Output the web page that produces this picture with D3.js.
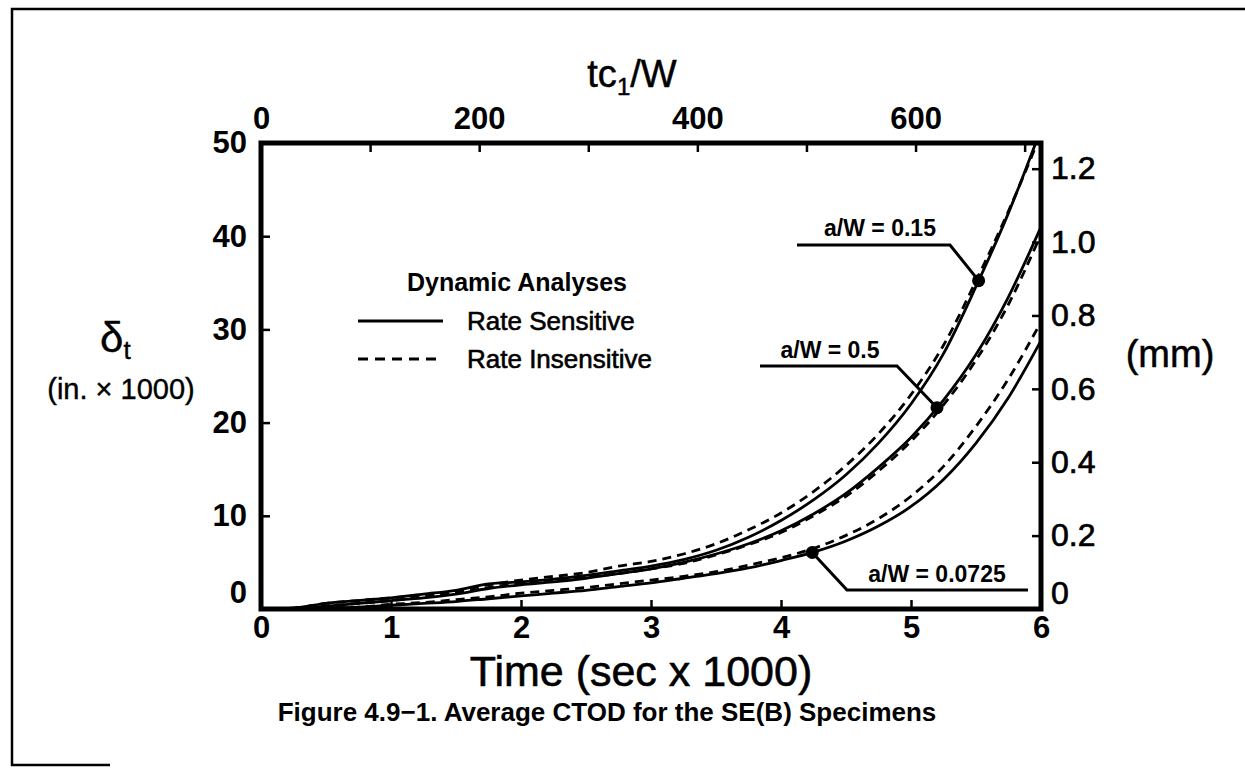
<!DOCTYPE html>
<html>
<head>
<meta charset="utf-8">
<script src="https://cdn.jsdelivr.net/npm/d3@7"></script>
<style>
  html, body { margin: 0; padding: 0; background: #fff; }
  svg { display: block; }
  text { font-family: "Liberation Sans", Arial, Helvetica, sans-serif; fill: #000; }
</style>
</head>
<body>
<svg id="chart" width="1245" height="773"></svg>
<script>
// Time (sec x 1000)
const timeK = [0, 0.25, 0.5, 0.75, 1.0, 1.25, 1.5, 1.75, 2.0, 2.25, 2.5, 2.75, 3.0,
               3.25, 3.5, 3.75, 4.0, 4.25, 4.5, 4.75, 5.0, 5.25, 5.5, 5.75, 6.0];

// Average CTOD, delta_t (in. x 1000), rate sensitive / rate insensitive
const rs015  = [0, 0.1, 0.6, 0.9, 1.2, 1.6, 2.0, 2.7, 2.9, 3.2, 3.6, 4.1, 4.6,
                5.3, 6.3, 7.7, 9.5, 11.7, 14.4, 17.8, 22.0, 27.4, 34.6, 42.5, 51.5];
const ri015  = [0, 0.1, 0.6, 0.9, 1.2, 1.5, 1.9, 2.6, 3.1, 3.5, 3.9, 4.6, 5.1,
                5.9, 7.0, 8.5, 10.3, 12.6, 15.4, 18.8, 23.0, 28.3, 35.2, 42.7, 51.0];
const rs050  = [0, 0, 0.3, 0.6, 0.9, 1.2, 1.6, 2.2, 2.6, 2.9, 3.3, 3.8, 4.3,
                5.0, 5.9, 7.0, 8.4, 10.2, 12.4, 15.2, 18.4, 22.4, 27.3, 33.5, 41.0];
const ri050  = [0, 0, 0.3, 0.6, 0.9, 1.3, 1.7, 2.3, 2.8, 3.1, 3.4, 3.8, 4.3,
                4.9, 5.8, 6.9, 8.2, 10.0, 12.1, 14.8, 18.0, 21.9, 26.7, 32.7, 40.2];
const rs0725 = [0, 0, 0.1, 0.2, 0.4, 0.6, 0.8, 1.1, 1.4, 1.7, 2.0, 2.4, 2.8,
                3.3, 3.8, 4.4, 5.2, 6.1, 7.3, 8.9, 11.0, 13.9, 17.8, 22.7, 28.8];
const ri0725 = [0, 0, 0.1, 0.2, 0.5, 0.7, 1.0, 1.3, 1.7, 2.0, 2.3, 2.7, 3.1,
                3.5, 4.0, 4.7, 5.5, 6.5, 7.9, 9.7, 12.1, 15.3, 19.6, 24.7, 30.8];

// a/W labels and the time at which each one points to its rate-sensitive curve
const crackRatios = ["0.15", "0.5", "0.0725"];
const markerTimes = [5.52, 5.2, 4.24];

// Axis ticks
const xTicks = [0, 1, 2, 3, 4, 5, 6];
const yTicks = [0, 10, 20, 30, 40, 50];
const mmTicks = [0, 0.2, 0.4, 0.6, 0.8, 1.0, 1.2];
const tcTicks = [0, 100, 200, 300, 400, 500, 600, 700];
const tcLabels = [0, 200, 400, 600];

const legendItems = ["Rate Sensitive", "Rate Insensitive"];

// ---------------------------------------------------------------
const svg = d3.select("#chart");
const W = 1245, H = 773;
const plot = { left: 261, top: 143, right: 1041, bottom: 609 };

const x = d3.scaleLinear().domain([0, 6]).range([plot.left, plot.right]);
const y = d3.scaleLinear().domain([0, 50]).range([plot.bottom, plot.top]);
const yMm = d3.scaleLinear().domain([0, 50 * 0.0254]).range([plot.bottom, plot.top]);
const xTc = d3.scaleLinear().domain([0, 715]).range([plot.left, plot.right]);

// page border
svg.append("path")
  .attr("d", `M${W},9 H12 V765 H110`)
  .attr("fill", "none").attr("stroke", "#000").attr("stroke-width", 2.5);

// clip for the curves
svg.append("defs").append("clipPath").attr("id", "plotClip")
  .append("rect")
  .attr("x", plot.left).attr("y", plot.top)
  .attr("width", plot.right - plot.left).attr("height", plot.bottom - plot.top);

const series = [
  { vals: rs015, dashed: false }, { vals: ri015, dashed: true },
  { vals: rs050, dashed: false }, { vals: ri050, dashed: true },
  { vals: rs0725, dashed: false }, { vals: ri0725, dashed: true }
];

const line = d3.line()
  .x((d, i) => x(timeK[i]))
  .y(d => y(d))
  .curve(d3.curveMonotoneX);

const curves = svg.append("g").attr("clip-path", "url(#plotClip)");
curves.selectAll("path")
  .data(series)
  .join("path")
  .attr("d", d => line(d.vals))
  .attr("fill", "none")
  .attr("stroke", "#000")
  .attr("stroke-width", 2.8)
  .attr("stroke-dasharray", d => d.dashed ? "9,6" : null);

// axes (ticks point inward)
const tickFont = g => g.selectAll("text")
  .style("font-size", "31px").style("font-weight", "bold").attr("fill", "#000");
const tickStroke = g => {
  g.select(".domain").remove();
  g.selectAll(".tick line").attr("stroke", "#000").attr("stroke-width", 2.5);
};

const gLeft = svg.append("g").attr("transform", `translate(${plot.left},0)`)
  .call(d3.axisLeft(y).tickValues(yTicks).tickSize(-9).tickPadding(14).tickFormat(d3.format("d")));
gLeft.call(tickStroke).call(tickFont);
gLeft.selectAll(".tick").filter(d => d === 0).select("text").attr("y", -16);
gLeft.selectAll(".tick").filter(d => d === 0 || d === 50).select("line").remove();

const gBottom = svg.append("g").attr("transform", `translate(0,${plot.bottom})`)
  .call(d3.axisBottom(x).tickValues(xTicks).tickSize(-9).tickPadding(7).tickFormat(d3.format("d")));
gBottom.call(tickStroke).call(tickFont);
gBottom.selectAll(".tick").filter(d => d === 0 || d === 6).select("line").remove();

const gRight = svg.append("g").attr("transform", `translate(${plot.right},0)`)
  .call(d3.axisRight(yMm).tickValues(mmTicks).tickSize(-9).tickPadding(10)
    .tickFormat(d => d === 0 ? "0" : d3.format(".1f")(d)));
gRight.call(tickStroke);
gRight.selectAll("text").style("font-size", "32px").attr("fill", "#000")
  .attr("stroke", "#000").attr("stroke-width", 0.7);
gRight.selectAll(".tick").filter(d => d === 0).select("text").attr("y", -16);
gRight.selectAll(".tick").filter(d => d === 0).select("line").remove();

const gTop = svg.append("g").attr("transform", `translate(0,${plot.top})`)
  .call(d3.axisTop(xTc).tickValues(tcTicks).tickSize(-9).tickPadding(14)
    .tickFormat(d => tcLabels.includes(d) ? d : ""));
gTop.call(tickStroke).call(tickFont);
gTop.selectAll(".tick").filter(d => d === 0).select("line").remove();

// plot frame
svg.append("rect")
  .attr("x", plot.left).attr("y", plot.top)
  .attr("width", plot.right - plot.left).attr("height", plot.bottom - plot.top)
  .attr("fill", "none").attr("stroke", "#000").attr("stroke-width", 5);

// axis titles
const title = svg.append("text").attr("x", 632).attr("y", 87)
  .attr("text-anchor", "middle").style("font-size", "38px")
  .attr("stroke", "#000").attr("stroke-width", 0.5);
title.append("tspan").text("tc");
title.append("tspan").text("1").style("font-size", "24px").attr("dy", 8);
title.append("tspan").text("/W").attr("dy", -8);

svg.append("text").attr("x", 641).attr("y", 686)
  .attr("text-anchor", "middle").style("font-size", "43px")
  .attr("stroke", "#000").attr("stroke-width", 0.6)
  .text("Time (sec x 1000)");

const dl = svg.append("text").attr("x", 100).attr("y", 352)
  .style("font-size", "42px").attr("stroke", "#000").attr("stroke-width", 0.4);
dl.append("tspan").text("δ");
dl.append("tspan").text("t").style("font-size", "26px").attr("dy", 7);

svg.append("text").attr("x", 121).attr("y", 399)
  .attr("text-anchor", "middle").style("font-size", "29px")
  .attr("stroke", "#000").attr("stroke-width", 0.4)
  .text("(in. \u00d7 1000)");

svg.append("text").attr("x", 1170).attr("y", 367)
  .attr("text-anchor", "middle").style("font-size", "38px")
  .attr("stroke", "#000").attr("stroke-width", 0.5)
  .text("(mm)");

// caption
svg.append("text").attr("x", 607).attr("y", 721)
  .attr("text-anchor", "middle").style("font-size", "26px").style("font-weight", "bold")
  .text("Figure 4.9\u22121. Average CTOD for the SE(B) Specimens");

// legend
const lg = svg.append("g");
lg.append("text").attr("x", 517).attr("y", 291).attr("text-anchor", "middle")
  .style("font-size", "25px").style("font-weight", "bold").text("Dynamic Analyses");
lg.selectAll("line.key")
  .data(legendItems)
  .join("line")
  .attr("class", "key")
  .attr("x1", 358).attr("x2", 443)
  .attr("y1", (d, i) => 321 + i * 38).attr("y2", (d, i) => 321 + i * 38)
  .attr("stroke", "#000").attr("stroke-width", 2.8)
  .attr("stroke-dasharray", (d, i) => i === 1 ? "10,7" : null);
lg.selectAll("text.item")
  .data(legendItems)
  .join("text")
  .attr("class", "item")
  .attr("x", 467).attr("y", (d, i) => 330 + i * 38)
  .style("font-size", "26px")
  .attr("stroke", "#000").attr("stroke-width", 0.6)
  .text(d => d);

// a/W callouts: marker on the rate-sensitive curve, elbow leader, underlined label
const rsCurves = [rs015, rs050, rs0725];
const interp = (vals, t) => {
  const i = d3.bisectRight(timeK, t) - 1;
  const f = (t - timeK[i]) / (timeK[i + 1] - timeK[i]);
  return vals[i] + f * (vals[i + 1] - vals[i]);
};
// leader geometry: elbow x, shelf y, shelf far end x, label centre and baseline
const callouts = [
  { elbowX: 950, shelfY: 245, endX: 797, labelX: 880, labelY: 236 },
  { elbowX: 897, shelfY: 366, endX: 760, labelX: 830, labelY: 358 },
  { elbowX: 847, shelfY: 590, endX: 1028, labelX: 937, labelY: 582 }
];
const ann = svg.append("g");
crackRatios.forEach((r, k) => {
  const t = markerTimes[k];
  const mx = x(t), my = y(interp(rsCurves[k], t));
  const c = callouts[k];
  ann.append("path")
    .attr("d", `M${mx},${my} L${c.elbowX},${c.shelfY} L${c.endX},${c.shelfY}`)
    .attr("fill", "none").attr("stroke", "#000").attr("stroke-width", 3);
  ann.append("circle").attr("cx", mx).attr("cy", my).attr("r", 6.5).attr("fill", "#000");
  ann.append("text").attr("x", c.labelX).attr("y", c.labelY)
    .attr("text-anchor", "middle").style("font-size", "23px").style("font-weight", "bold")
    .text(`a/W = ${r}`);
});
</script>
</body>
</html>
